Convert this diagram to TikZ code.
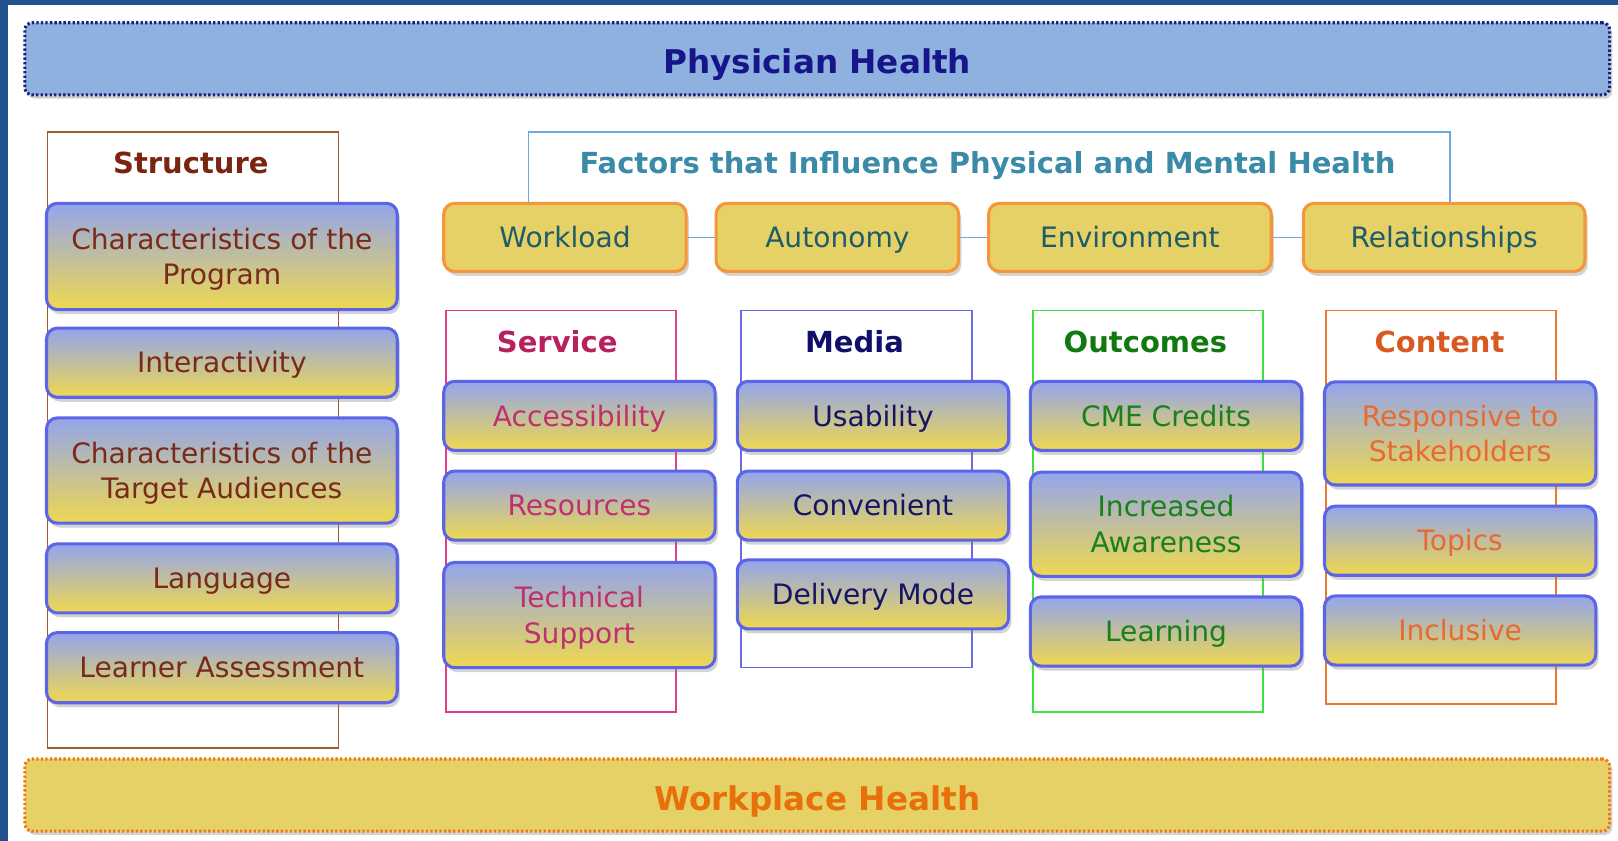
\documentclass[tikz,border=0pt]{standalone}
\usepackage{fontspec}
\setmainfont{DejaVu Sans}
\usetikzlibrary{shadows}

\definecolor{stripblue}{HTML}{23508E}
\definecolor{physfill}{HTML}{8EB1E0}
\definecolor{physline}{HTML}{1A237E}
\definecolor{phystext}{HTML}{16168A}
\definecolor{workfill}{HTML}{E5D165}
\definecolor{workline}{HTML}{F07A10}
\definecolor{worktext}{HTML}{E8700A}
\definecolor{itemline}{HTML}{5C64E8}
\definecolor{itemtop}{HTML}{93A5EC}
\definecolor{itembot}{HTML}{EFD850}
\definecolor{factline}{HTML}{F5963A}
\definecolor{facttext}{HTML}{1F5C6A}
\definecolor{factframe}{HTML}{6FA8DC}
\definecolor{facttitle}{HTML}{3A8AA8}
\definecolor{strucframe}{HTML}{A65A2A}
\definecolor{structitle}{HTML}{7A2510}
\definecolor{structext}{HTML}{7A2A18}
\definecolor{servframe}{HTML}{E0408A}
\definecolor{servtitle}{HTML}{B82060}
\definecolor{servtext}{HTML}{C03070}
\definecolor{medframe}{HTML}{6A6AE8}
\definecolor{medtitle}{HTML}{10106A}
\definecolor{medtext}{HTML}{151565}
\definecolor{outframe}{HTML}{40E040}
\definecolor{outtitle}{HTML}{107A10}
\definecolor{outtext}{HTML}{1A801A}
\definecolor{contframe}{HTML}{E87A30}
\definecolor{conttitle}{HTML}{D85A20}
\definecolor{conttext}{HTML}{E86A30}

\begin{document}
\begin{tikzpicture}[x=0.02cm, y=-0.02cm,
    bar/.style = {rounded corners=4pt,
        line width=1.7pt,
        dash pattern=on 1.3pt off 1.2pt,
        minimum width=30.72cm,
        minimum height=1.4cm,
        text height=16.8pt,
        text depth=0.3pt,
        font=\bfseries\fontsize{18}{22}\selectfont,
        drop shadow={opacity=0.35, shadow xshift=1.5pt, shadow yshift=-2pt}},
    frame/.style = {line width=0.9pt},
    heading/.style = {text height=12pt,
        text depth=0.3pt,
        font=\bfseries\fontsize{16}{19}\selectfont},
    item/.style = {draw=itemline,
        line width=1.7pt,
        rounded corners=6pt,
        top color=itemtop,
        bottom color=itembot,
        inner sep=0pt,
        align=center,
        minimum width=5.26cm,
        minimum height=1.34cm,
        text height=11.6pt,
        text depth=0.3pt,
        font=\fontsize{15.5}{19.5}\selectfont,
        drop shadow={opacity=0.35, shadow xshift=1.5pt, shadow yshift=-2.5pt}},
    pair/.style = {item,
        text height=,
        minimum height=2.04cm},
    factor/.style = {draw=factline,
        line width=1.7pt,
        rounded corners=6pt,
        fill=workfill,
        text=facttext,
        minimum width=4.7cm,
        minimum height=1.32cm,
        text height=11.6pt,
        text depth=0.3pt,
        font=\fontsize{15.5}{19.5}\selectfont,
        drop shadow={opacity=0.35, shadow xshift=1.5pt, shadow yshift=-2.5pt}},
    link/.style = {draw=factframe, line width=0.9pt}]

\useasboundingbox (0,0) rectangle (1568,815);

% Page edge
\fill[stripblue] (0,0) rectangle (8,815);
\fill[stripblue] (0,0) rectangle (1568,5);

% Physician health
\node[bar, draw=physline, fill=physfill, text=phystext] (phys) at (792,57) {Physician Health};

% Workplace health
\node[bar, draw=workline, fill=workfill, text=worktext] (work) at (792,770.5) {Workplace Health};

% Frames
\draw[frame, strucframe] (46,128) rectangle (328,725);
\draw[frame, factframe] (512,197) -- (512,128) -- (1405,128) -- (1405,197);
\draw[frame, servframe] (432,301) rectangle (655,690);
\draw[frame, medframe] (718,301) rectangle (942,647);
\draw[frame, outframe] (1001,301) rectangle (1224,690);
\draw[frame, contframe] (1285,301) rectangle (1508,682);

% Headings
\node[heading, text=structitle] (struc) at (185,158) {Structure};
\node[heading, text=facttitle] (fact) at (957,158) {Factors that Influence Physical and Mental Health};
\node[heading, text=servtitle] (serv) at (540,331) {Service};
\node[heading, text=medtitle] (med) at (828,331) {Media};
\node[heading, text=outtitle] (out) at (1110,331) {Outcomes};
\node[heading, text=conttitle] (cont) at (1395,331) {Content};

% Factors
\node[factor] (workload) at (547.5,230) {Workload};
\node[factor] (autonomy) at (811.5,230) {Autonomy};
\node[factor, minimum width=5.48cm] (environ) at (1095,230) {Environment};
\node[factor, minimum width=5.46cm] (relation) at (1399.5,230) {Relationships};

\draw[link] (workload) -- (autonomy);
\draw[link] (autonomy) -- (environ);
\draw[link] (environ) -- (relation);

% Structure
\node[pair, text=structext, minimum width=6.8cm, minimum height=2.06cm] (program) at (215,248.5) {Characteristics of the\\Program};
\node[item, text=structext, minimum width=6.8cm] (interact) at (215,351.5) {Interactivity};
\node[pair, text=structext, minimum width=6.8cm] (audience) at (215,456) {Characteristics of the\\Target Audiences};
\node[item, text=structext, minimum width=6.8cm] (language) at (215,560.5) {Language};
\node[item, text=structext, minimum width=6.8cm, minimum height=1.36cm] (assess) at (215,647) {Learner Assessment};

% Service
\node[item, text=servtext] (access) at (561.5,403) {Accessibility};
\node[item, text=servtext] (resource) at (561.5,490) {Resources};
\node[pair, text=servtext] (support) at (561.5,596) {Technical\\Support};

% Media
\node[item, text=medtext] (usab) at (846,403) {Usability};
\node[item, text=medtext] (conven) at (846,490) {Convenient};
\node[item, text=medtext] (delivery) at (846,576) {Delivery Mode};

% Outcomes
\node[item, text=outtext] (credits) at (1130,403) {CME Credits};
\node[pair, text=outtext, minimum height=2.02cm] (aware) at (1130,508) {Increased\\Awareness};
\node[item, text=outtext] (learn) at (1130,612) {Learning};

% Content
\node[pair, text=conttext, minimum height=2cm] (respons) at (1415,420) {Responsive to\\Stakeholders};
\node[item, text=conttext] (topics) at (1415,524) {Topics};
\node[item, text=conttext] (inclus) at (1415,611) {Inclusive};
\end{tikzpicture}
\end{document}
